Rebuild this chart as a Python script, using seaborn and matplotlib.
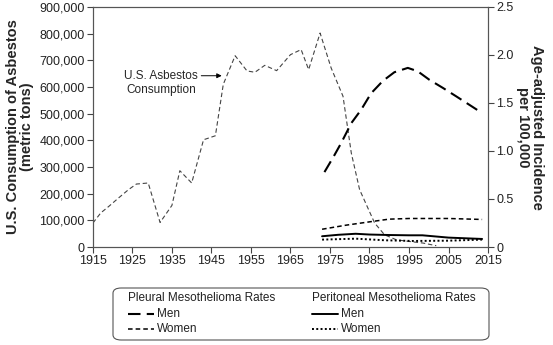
import numpy as np
import pandas as pd
import seaborn as sns
import matplotlib.pyplot as plt
from matplotlib.lines import Line2D
from matplotlib.patches import FancyBboxPatch

# U.S. asbestos consumption (metric tons)
cons_years = [1915, 1917, 1919, 1921.5, 1924, 1926, 1929, 1932, 1935, 1937, 1940, 1943,
              1946, 1948, 1951, 1954, 1956, 1958.5, 1961.5, 1965, 1967.7, 1969.6, 1972.5,
              1975.3, 1978.3, 1980.4, 1982.5, 1986.3, 1988.8, 1991.8, 1995, 1998.5, 2001.9]
cons_tons = [90000, 128000, 152000, 184000, 215000, 236000, 240000, 92000, 156000, 286000,
             240000, 402000, 417000, 610000, 717000, 660000, 655000, 681000, 661000, 721000,
             740000, 665000, 802000, 671000, 565000, 352000, 215000, 90000, 46000, 27000,
             21000, 15000, 5000]

# age-adjusted incidence per 100,000
pl_men_years = [1973.6, 1975.9, 1977.8, 1980.4, 1982.9, 1985.4, 1988.4, 1991.3, 1994.7,
                1997.2, 2000.2, 2003.6, 2006.9, 2010.3, 2013.3]
pl_men = [0.78, 0.94, 1.08, 1.29, 1.43, 1.60, 1.73, 1.82, 1.865, 1.83, 1.74, 1.656, 1.57,
          1.48, 1.40]
pl_women_years = [1973, 1979, 1985, 1989.9, 1995, 2005, 2013.5]
pl_women = [0.185, 0.227, 0.262, 0.29, 0.297, 0.297, 0.287]
pe_men_years = [1973, 1977, 1981.5, 1985, 1990, 1995, 1998.4, 2005, 2013.5]
pe_men = [0.112, 0.127, 0.138, 0.13, 0.125, 0.122, 0.122, 0.098, 0.084]
pe_women_years = [1973, 1981.5, 1989, 1996, 2005, 2013.5]
pe_women = [0.077, 0.087, 0.07, 0.063, 0.066, 0.077]

sns.set_style("ticks")
plt.rcParams['font.family'] = ['Liberation Sans', 'DejaVu Sans']

fig = plt.figure(figsize=(5.53, 3.45), dpi=100)
ax = fig.add_axes([0.168, 0.284, 0.7145, 0.696])
ax2 = ax.twinx()

sns.lineplot(x=cons_years, y=cons_tons, ax=ax, color='#444444', lw=0.8,
             linestyle=(0, (4, 2.5)))
ax.set_xlim(1915, 2015)
ax.set_ylim(0, 900000)
ax.set_xticks(np.arange(1915, 2016, 10))
ax.set_yticks(np.arange(0, 900001, 100000))
ax.yaxis.set_major_formatter(plt.FuncFormatter(lambda v, p: f'{int(v):,}'))
ax.set_ylabel('U.S. Consumption of Asbestos\n(metric tons)', fontsize=10.5,
              fontweight='bold', linespacing=1.0, labelpad=4)

sty_pl_m = dict(color='black', lw=1.5, linestyle=(0, (6, 3)))
sty_pl_w = dict(color='black', lw=1.1, linestyle=(0, (3, 2)))
sty_pe_m = dict(color='black', lw=1.4, linestyle='-')
sty_pe_w = dict(color='black', lw=1.4, linestyle=(0, (1, 1.2)))
sns.lineplot(x=pl_men_years, y=pl_men, ax=ax2, **sty_pl_m)
sns.lineplot(x=pl_women_years, y=pl_women, ax=ax2, **sty_pl_w)
sns.lineplot(x=pe_men_years, y=pe_men, ax=ax2, **sty_pe_m)
sns.lineplot(x=pe_women_years, y=pe_women, ax=ax2, **sty_pe_w)
ax2.set_ylim(0, 2.5)
ax2.set_yticks([0, 0.5, 1.0, 1.5, 2.0, 2.5])
ax2.yaxis.set_major_formatter(plt.FuncFormatter(lambda v, p: '0' if v == 0 else f'{v:.1f}'))
ax2.set_ylabel('Age-adjusted Incidence\nper 100,000', fontsize=10.5, fontweight='bold',
               rotation=270, linespacing=1.0, labelpad=22)

for a in (ax, ax2):
    a.tick_params(labelsize=9, length=4, width=0.8, color='#444444', pad=2,
                  labelcolor='#222222')
    for s in a.spines.values():
        s.set_visible(True)
        s.set_color('#555555')
        s.set_linewidth(0.8)

ax.annotate('U.S. Asbestos', xy=(1947.6, 642000), xytext=(1941.6, 642000),
            ha='right', va='center', fontsize=8.5,
            arrowprops=dict(arrowstyle='-|>', color='black', lw=0.7, mutation_scale=7,
                            shrinkA=0, shrinkB=0))
ax.text(1932.2, 588000, 'Consumption', ha='center', va='center', fontsize=8.5)

# legend box drawn by hand
box = FancyBboxPatch((113 / 553, 1 - 340 / 345), 376 / 553, 52 / 345,
                     boxstyle='round,pad=0,rounding_size=0.015', transform=fig.transFigure,
                     fill=False, edgecolor='#555555', lw=0.8)
fig.patches.append(box)
cols = [(128, 'Pleural Mesothelioma Rates', sty_pl_m, sty_pl_w),
        (312, 'Peritoneal Mesothelioma Rates', sty_pe_m, sty_pe_w)]
for x0, title, sm, sw in cols:
    fig.text(x0 / 553, 1 - 298 / 345, title, fontsize=8.5, va='center', ha='left',
             color='#222222')
    for yy, lab, st in [(314, 'Men', sm), (329, 'Women', sw)]:
        fig.lines.append(Line2D([x0 / 553, (x0 + 26) / 553], [1 - yy / 345] * 2,
                                transform=fig.transFigure, **st))
        fig.text((x0 + 29) / 553, 1 - yy / 345, lab, fontsize=8.5, va='center', ha='left',
                 color='#222222')

fig.savefig('out.png', dpi=100)
